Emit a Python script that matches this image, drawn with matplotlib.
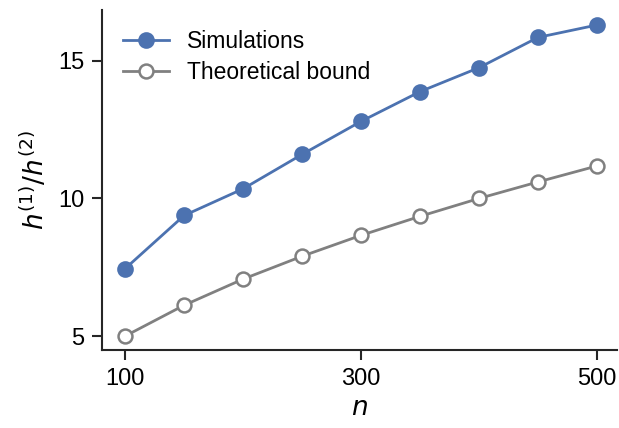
import matplotlib
matplotlib.use('Agg')
import matplotlib.pyplot as plt

n_vals = [100, 150, 200, 250, 300, 350, 400, 450, 500]
simulations = [7.45, 9.38, 10.35, 11.6, 12.8, 13.88, 14.75, 15.85, 16.3]
theoretical = [5.0, 6.12, 7.07, 7.9, 8.66, 9.35, 10.0, 10.6, 11.18]

plt.rcParams['font.family'] = ['Liberation Sans', 'DejaVu Sans']
plt.rcParams['mathtext.fontset'] = 'dejavusans'

fig = plt.figure(figsize=(6.19, 4.28), dpi=100)
ax = fig.add_axes([0.165, 0.182, 0.832, 0.795])

blue = '#4C72B0'
grey = '#808080'
ax.plot(n_vals, simulations, '-o', color=blue, lw=2, ms=10.5,
        mfc=blue, mec=blue, mew=1.5, label='Simulations')
ax.plot(n_vals, theoretical, '-o', color=grey, lw=2, ms=10,
        mfc='white', mec=grey, mew=1.8, label='Theoretical bound')

ax.set_xlim(80.5, 517)
ax.set_ylim(4.49, 16.85)
ax.set_xticks([100, 300, 500])
ax.set_yticks([5, 10, 15])
ax.set_xlabel(r'$n$', fontsize=19, labelpad=4)
ax.set_ylabel(r'$h^{(1)}/h^{(2)}$', fontsize=19, labelpad=6)

for s in ['top', 'right']:
    ax.spines[s].set_visible(False)
for s in ['left', 'bottom']:
    ax.spines[s].set_linewidth(1.5)
    ax.spines[s].set_color('#262626')
ax.tick_params(labelsize=17, length=7, width=1.5, color='#262626', pad=6)

ax.legend(loc='upper left', frameon=False, fontsize=16.5, bbox_to_anchor=(0.0, 1.0),
          handlelength=2.0, borderaxespad=0.5, labelspacing=0.35, handletextpad=0.8)

fig.savefig('out.png', dpi=100)
